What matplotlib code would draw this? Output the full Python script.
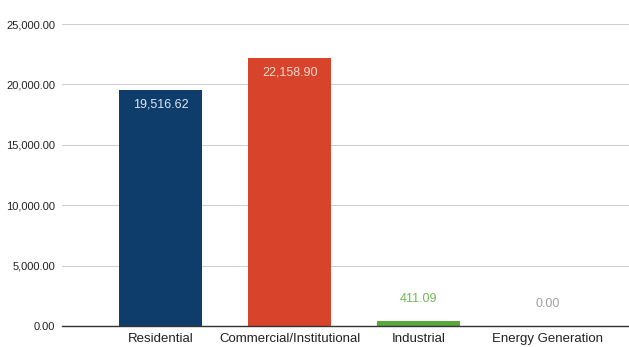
import matplotlib.pyplot as plt
from matplotlib.ticker import FuncFormatter

plt.rcParams['font.family'] = ['Liberation Sans', 'DejaVu Sans']

categories = ['Residential', 'Commercial/Institutional', 'Industrial', 'Energy Generation']
values = [19516.62, 22158.90, 411.09, 0.00]
bar_colors = ['#0f3d6b', '#d8432b', '#5aa83c', '#9e9e9e']
label_colors = ['#dde6f0', '#f8d8cc', '#72b857', '#a0a0a0']
y_ticks = [0, 5000, 10000, 15000, 20000, 25000]

fig = plt.figure(figsize=(6.29, 3.47), dpi=100)
ax = fig.add_axes([62 / 629, 21 / 347, 1 - 62 / 629, (326 - 24) / 347])

x = list(range(len(categories)))
ax.bar(x, values, width=0.64, color=bar_colors, zorder=3)

# value labels: inside the top of tall bars, above short ones
for xi, v, c in zip(x, values, label_colors):
    txt = format(v, ',.2f')
    if v > 3000:
        ax.text(xi, v - 650, txt, ha='center', va='top', fontsize=9,
                color=c, zorder=4)
    else:
        ax.text(xi, v + 1300, txt, ha='center', va='bottom', fontsize=9,
                color=c, zorder=4)

ax.set_xlim(-0.765, 3.63)
ax.set_ylim(0, 25000)
ax.set_yticks(y_ticks)
ax.yaxis.set_major_formatter(FuncFormatter(lambda v, p: format(v, ',.2f')))
ax.set_xticks(x)
ax.set_xticklabels(categories)

ax.grid(axis='y', color='#d0d0d0', linewidth=0.8, zorder=0)
for s in ['top', 'right', 'left']:
    ax.spines[s].set_visible(False)
ax.spines['bottom'].set_color('#333333')
ax.spines['bottom'].set_linewidth(1.0)
ax.spines['bottom'].set_zorder(5)
ax.tick_params(axis='both', length=0, colors='#222222')
ax.tick_params(axis='y', pad=5, labelsize=8)
ax.tick_params(axis='x', pad=5, labelsize=9.5)

plt.savefig('out.png', dpi=100)
